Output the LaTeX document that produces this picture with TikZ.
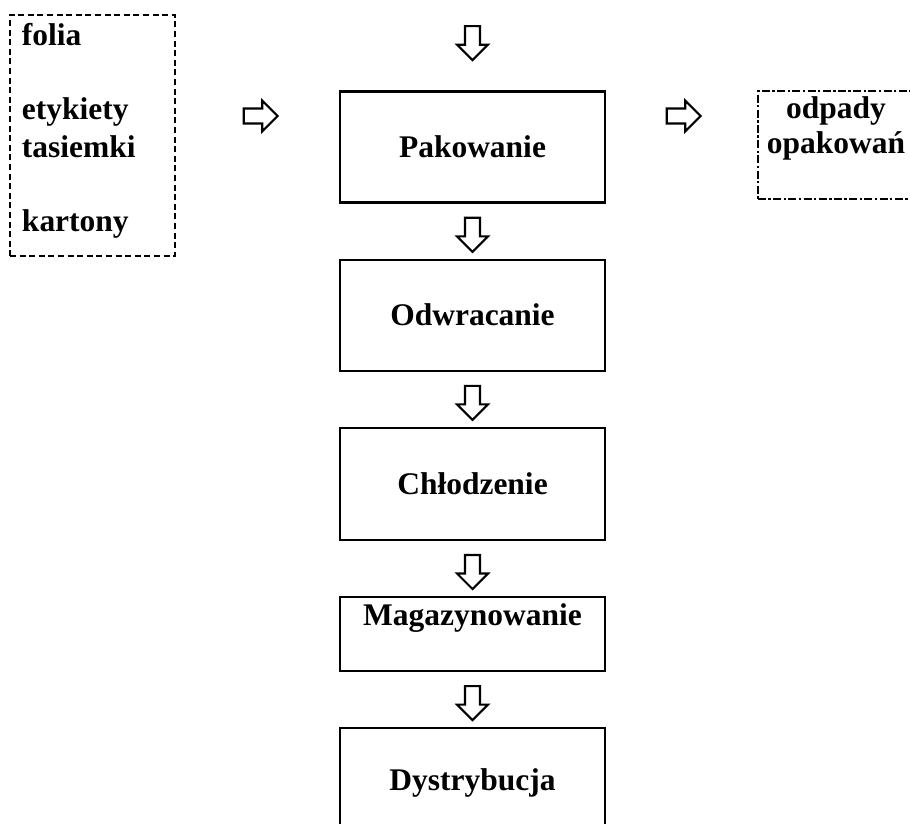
\documentclass[tikz,border=0pt]{standalone}
\usepackage{fontspec}
\setmainfont{Liberation Serif}
\usetikzlibrary{shapes.arrows,positioning,calc}

\begin{document}
\begin{tikzpicture}[
            every node/.style={font=\bfseries\fontsize{22.4}{26.6}\selectfont},
            stage/.style={rectangle, draw, line width=1.5pt, inner sep=0pt, minimum width=6.625cm, text height=1.65cm, text depth=1.125cm},
            inbox/.style={rectangle, draw, line width=1.5pt, dash pattern=on 0.15cm off 0.09cm, inner xsep=0.3cm, inner ysep=0pt, minimum width=4.125cm, text height=0.75cm, text depth=5.275cm},
            wastebox/.style={rectangle, draw, line width=1.3pt, dash pattern=on 0.2cm off 0.06cm on 0.06cm off 0.06cm, inner sep=0pt, text height=0.675cm, text depth=2.025cm},
            downarr/.style={single arrow, draw, line width=1.5pt, fill=white, inner sep=0.16cm, minimum height=0.85cm, minimum width=0.75cm, single arrow head extend=0.2cm, shape border rotate=270},
            sidearr/.style={downarr, shape border rotate=0}
        ]
            \useasboundingbox (-11.8125,-16.9) rectangle (10.9375,3.675);
            % main line
            \node[stage] (pak) at (0,0) {Pakowanie};
            \node[stage, below=1.375cm of pak] (odw) {Odwracanie};
            \node[stage, below=1.375cm of odw, text height=1.675cm] (chl) {Chłodzenie};
            \node[stage, below=1.375cm of chl, text height=0.725cm] (mag) {Magazynowanie};
            \node[stage, below=1.375cm of mag, text height=1.575cm, text depth=1.225cm] (dys) {Dystrybucja};
            % side boxes
            \node[inbox] (inputs) at (-9.5,0.2875) {\makebox[3.525cm][l]{\begin{tabular}[t]{@{}l@{}}folia\\ \\ etykiety\\ tasiemki\\ \\ kartony\end{tabular}}};
            \node[wastebox, right=3.775cm of pak.north east, anchor=north west] (waste) {\makebox[3.9cm]{\begin{tabular}[t]{@{}c@{}}odpady\\[-1.7pt] opakowań\end{tabular}}\hspace*{0.6cm}};
            % arrows
            \node[downarr] (a0) at ([yshift=1.275cm]pak.north) {};
            \node[downarr] (a1) at ($(pak.south)!0.5!(odw.north)$) {};
            \node[downarr] (a2) at ($(odw.south)!0.5!(chl.north)$) {};
            \node[downarr] (a3) at ($(chl.south)!0.5!(mag.north)$) {};
            \node[downarr] (a4) at ($(mag.south)!0.5!(dys.north)$) {};
            \node[sidearr] (ain) at (-5.3875,0.775) {};
            \node[sidearr] (aout) at (5.1875,0.775) {};
        \end{tikzpicture}
\end{document}
